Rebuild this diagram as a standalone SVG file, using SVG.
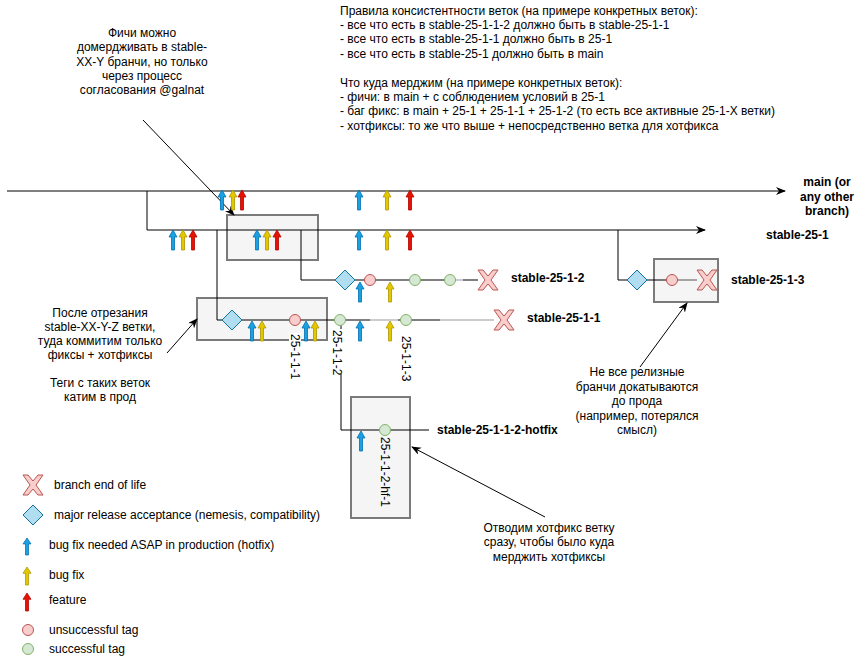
<svg xmlns="http://www.w3.org/2000/svg" xmlns:xlink="http://www.w3.org/1999/xlink" width="858" height="665" viewBox="0 0 858 665">
<style>
text{font-family:"Liberation Sans",Arial,Helvetica,sans-serif;font-size:12px;fill:#000}
.b{font-weight:bold}
.c{text-anchor:middle}
.ln{fill:none;stroke:#000;stroke-width:1}
.gl{fill:none;stroke:#999;stroke-width:1}
.ptr{fill:none;stroke:#000;stroke-width:1;marker-end:url(#pa)}
.box{fill:#f5f5f5;stroke:#7a7a7a;stroke-width:2}
.blue{fill:#1ba1e2;stroke:#006eaf;stroke-width:0.8}
.yel{fill:#e3c800;stroke:#b09500;stroke-width:0.8}
.red{fill:#e51400;stroke:#b20000;stroke-width:0.8}
.dia{fill:#b1ddf0;stroke:#10739e;stroke-width:1}
.rc{fill:#f8cecc;stroke:#b85450;stroke-width:1}
.gc{fill:#d5e8d4;stroke:#82b366;stroke-width:1}
.x{fill:#f8cecc;stroke:#b85450;stroke-width:1}
.lbg{fill:#fff}
</style>
<defs>
<marker id="ha" viewBox="0 0 10 8" refX="9" refY="4" markerWidth="10" markerHeight="8" markerUnits="userSpaceOnUse" orient="auto">
<path d="M0,0 L10,4 L0,8 L3,4 Z" fill="#000"/>
</marker>
<marker id="pa" viewBox="0 0 10 8" refX="9" refY="4" markerWidth="10" markerHeight="8" markerUnits="userSpaceOnUse" orient="auto">
<path d="M0,0 L10,4 L0,8 L3,4 Z" fill="#000"/>
</marker>
<path id="arr" d="M0,0 L4,7 L1.5,7 L1.5,20 L-1.5,20 L-1.5,7 L-4,7 Z"/>
<path id="dm" d="M0,-10 L10,0 L0,10 L-10,0 Z"/>
<path id="xx" d="M-10,-10 L-5,-10 L0,-4 L5,-10 L10,-10 L3,0 L10,10 L5,10 L0,4 L-5,10 L-10,10 L-3,0 Z"/>
</defs>
<rect width="858" height="665" fill="#fff"/>

<!-- highlight boxes -->
<g id="box-feature-merge"><rect class="box" x="227" y="215" width="91" height="45"/></g>
<g id="box-stable-25-1-1"><rect class="box" x="197" y="298" width="130" height="42"/></g>
<g id="box-hotfix"><rect class="box" x="351" y="397" width="59" height="121"/></g>
<g id="box-stable-25-1-3"><rect class="box" x="654" y="259" width="64" height="43"/></g>

<!-- connectors -->
<g id="connectors">
<path class="ln" d="M7,191 H785" marker-end="url(#ha)"/>
<path class="ln" d="M147,191 V230 H705" marker-end="url(#ha)"/>
<path class="ln" d="M301,230 V280 H335"/>
<path class="ln" d="M355,280 H455"/>
<path class="gl" d="M455,280 H463"/>
<path class="ln" d="M463,280 H478"/>
<path class="ln" d="M217,230 V320 H222"/>
<path class="ln" d="M242,320 H370"/>
<path class="gl" d="M370,320 H398"/>
<path class="ln" d="M398,320 H440"/>
<path class="gl" d="M440,320 H494"/>
<path class="ln" d="M341,320 V430 H429"/>
<path class="ln" d="M618,230 V280 H627"/>
<path class="ln" d="M647,280 H672"/>
<path d="M672,280 H697" fill="none" stroke="#555" stroke-width="1"/>
<path class="ptr" d="M143,120 L234,215"/>
<path class="ptr" d="M167,353 L197,319"/>
<path class="ptr" d="M640,367 L687,303"/>
<path class="ptr" d="M545,517 L412,447"/>
</g>

<!-- commits on main -->
<g id="commits-main">
<use href="#arr" class="blue" x="222" y="190"/>
<use href="#arr" class="yel" x="233" y="190"/>
<use href="#arr" class="red" x="242" y="190"/>
<use href="#arr" class="blue" x="359" y="190"/>
<use href="#arr" class="yel" x="387" y="190"/>
<use href="#arr" class="red" x="410" y="190"/>
</g>
<!-- commits on stable-25-1 -->
<g id="commits-stable-25-1">
<use href="#arr" class="blue" x="173" y="230"/>
<use href="#arr" class="yel" x="183" y="230"/>
<use href="#arr" class="red" x="193" y="230"/>
<use href="#arr" class="blue" x="257" y="230"/>
<use href="#arr" class="yel" x="267" y="230"/>
<use href="#arr" class="red" x="277" y="230"/>
<use href="#arr" class="blue" x="359" y="230"/>
<use href="#arr" class="yel" x="387" y="230"/>
<use href="#arr" class="red" x="410" y="230"/>
</g>

<!-- stable-25-1-2 -->
<g id="stable-25-1-2">
<use href="#dm" class="dia" x="345" y="280"/>
<use href="#arr" class="blue" x="360" y="282"/>
<circle class="rc" cx="370" cy="280" r="5.5"/>
<use href="#arr" class="yel" x="390" y="282"/>
<circle class="gc" cx="415" cy="280" r="5.5"/>
<circle class="gc" cx="450" cy="280" r="5.5"/>
<use href="#xx" class="x" x="488" y="280"/>
<text class="b" x="511" y="282">stable-25-1-2</text>
</g>

<!-- stable-25-1-1 -->
<g id="stable-25-1-1">
<use href="#dm" class="dia" x="232" y="320"/>
<use href="#arr" class="blue" x="252" y="321"/>
<use href="#arr" class="yel" x="262" y="321"/>
<circle class="rc" cx="295" cy="320" r="5.5"/>
<use href="#arr" class="blue" x="306" y="321"/>
<use href="#arr" class="yel" x="315" y="321"/>
<circle class="gc" cx="340" cy="320" r="5.5"/>
<use href="#arr" class="blue" x="360" y="321"/>
<use href="#arr" class="yel" x="390" y="321"/>
<circle class="gc" cx="406" cy="320" r="5.5"/>
<use href="#xx" class="x" x="504" y="320"/>
<text class="b" x="527" y="322">stable-25-1-1</text>
</g>

<!-- tag labels -->
<g id="tag-25-1-1-1">
<rect class="lbg" x="289" y="333" width="12" height="46"/>
<text transform="translate(295,334) rotate(90)" dominant-baseline="central">25-1-1-1</text>
</g>
<g id="tag-25-1-1-2">
<rect class="lbg" x="331" y="329" width="12" height="45"/>
<text transform="translate(337,330) rotate(90)" dominant-baseline="central">25-1-1-2</text>
</g>
<g id="tag-25-1-1-3">
<rect class="lbg" x="400" y="335" width="12" height="45"/>
<text transform="translate(406,336) rotate(90)" dominant-baseline="central">25-1-1-3</text>
</g>

<!-- hotfix branch -->
<g id="stable-25-1-1-2-hotfix">
<use href="#arr" class="blue" x="361" y="431"/>
<circle class="gc" cx="385" cy="430" r="5.5"/>
<text transform="translate(385,437) rotate(90)" dominant-baseline="central">25-1-1-2-hf-1</text>
<text class="b" x="437" y="434">stable-25-1-1-2-hotfix</text>
</g>

<!-- stable-25-1-3 -->
<g id="stable-25-1-3">
<use href="#dm" class="dia" x="637" y="280"/>
<circle class="rc" cx="672" cy="280" r="5.5"/>
<use href="#xx" class="x" x="707" y="280"/>
<text class="b" x="731" y="284">stable-25-1-3</text>
</g>

<!-- branch labels -->
<g id="label-main">
<text class="b c" x="827" y="186">main (or</text>
<text class="b c" x="827" y="200.5">any other</text>
<text class="b c" x="827" y="215">branch)</text>
</g>
<g id="label-stable-25-1"><text class="b" x="766" y="239">stable-25-1</text></g>

<!-- notes -->
<g id="note-features">
<text class="c" x="142" y="36.5">Фичи можно</text>
<text class="c" x="142" y="51">домердживать в stable-</text>
<text class="c" x="142" y="65.5">XX-Y бранчи, но только</text>
<text class="c" x="142" y="80">через процесс</text>
<text class="c" x="142" y="94">согласования @galnat</text>
</g>
<g id="note-rules">
<text x="340" y="14.5">Правила консистентности веток (на примере конкретных веток):</text>
<text x="340" y="28.9">- все что есть в stable-25-1-1-2 должно быть в stable-25-1-1</text>
<text x="340" y="43.3">- все что есть в stable-25-1-1 должно быть в 25-1</text>
<text x="340" y="57.7">- все что есть в stable-25-1 должно быть в main</text>
<text x="340" y="86.5">Что куда мерджим (на примере конкретных веток):</text>
<text x="340" y="100.9">- фичи: в main + с соблюдением условий в 25-1</text>
<text x="340" y="115.3">- баг фикс: в main + 25-1 + 25-1-1 + 25-1-2 (то есть все активные 25-1-X ветки)</text>
<text x="340" y="129.7">- хотфиксы: то же что выше + непосредственно ветка для хотфикса</text>
</g>
<g id="note-cut">
<text class="c" x="100" y="316.5">После отрезания</text>
<text class="c" x="100" y="330.5">stable-XX-Y-Z ветки,</text>
<text class="c" x="100" y="344.5">туда коммитим только</text>
<text class="c" x="100" y="358.5">фиксы + хотфиксы</text>
<text class="c" x="100" y="387">Теги с таких веток</text>
<text class="c" x="100" y="401">катим в прод</text>
</g>
<g id="note-not-all">
<text class="c" x="637" y="376">Не все релизные</text>
<text class="c" x="637" y="390.5">бранчи докатываются</text>
<text class="c" x="637" y="405">до прода</text>
<text class="c" x="637" y="419.5">(например, потерялся</text>
<text class="c" x="637" y="434">смысл)</text>
</g>
<g id="note-hotfix">
<text class="c" x="549" y="531.5">Отводим хотфикс ветку</text>
<text class="c" x="549" y="546">сразу, чтобы было куда</text>
<text class="c" x="549" y="560.5">мерджить хотфиксы</text>
</g>

<!-- legend -->
<g id="legend">
<use href="#xx" class="x" x="33" y="485"/>
<text x="54" y="489">branch end of life</text>
<use href="#dm" class="dia" x="33" y="515"/>
<text x="54" y="519">major release acceptance (nemesis, compatibility)</text>
<use href="#arr" class="blue" transform="translate(27,538) scale(1,0.85)"/>
<text x="49" y="549">bug fix needed ASAP in production (hotfix)</text>
<use href="#arr" class="yel" transform="translate(27,567) scale(1,0.9)"/>
<text x="49" y="578.5">bug fix</text>
<use href="#arr" class="red" transform="translate(27,593) scale(1,0.9)"/>
<text x="49" y="604">feature</text>
<circle class="rc" cx="28" cy="630" r="5.5"/>
<text x="49" y="634">unsuccessful tag</text>
<circle class="gc" cx="28" cy="649" r="5.5"/>
<text x="49" y="653">successful tag</text>
</g>
</svg>
